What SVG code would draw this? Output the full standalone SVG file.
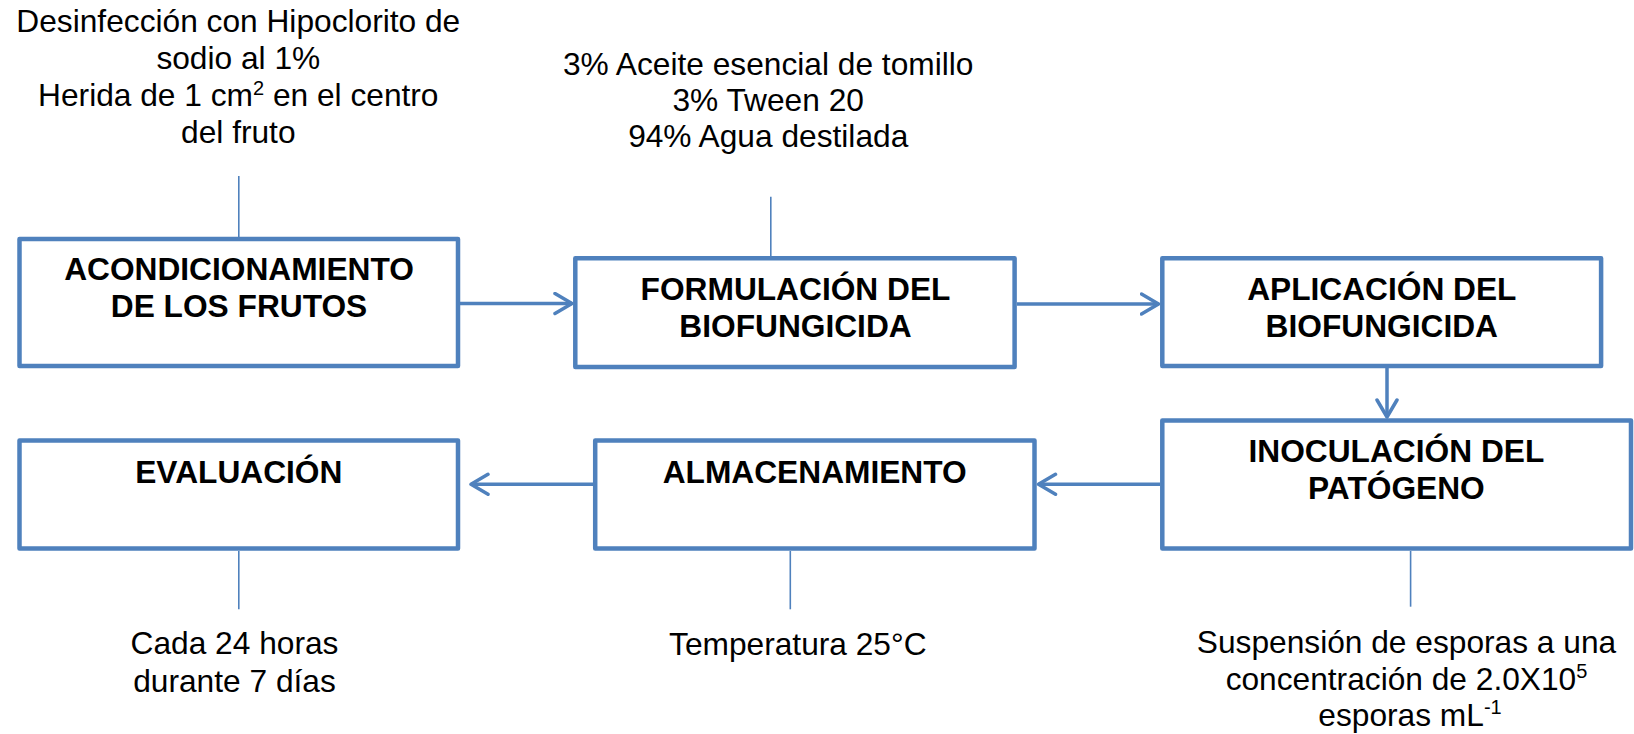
<svg xmlns="http://www.w3.org/2000/svg" width="1634" height="734" viewBox="0 0 1634 734">
<defs>
<style>
.box{fill:#fff;stroke:#4F81BD;stroke-width:4.5;stroke-linejoin:round}
.arr{fill:none;stroke:#4F81BD;stroke-width:3.5}
.thin{fill:none;stroke:#4F81BD;stroke-width:1.6}
.t{font-family:"Liberation Sans",Arial,sans-serif;font-size:31.7px;fill:#000;text-anchor:middle}
.b{font-weight:bold}
</style>
<marker id="ah" viewBox="0 0 22 24" refX="19" refY="12" markerWidth="22" markerHeight="24" markerUnits="userSpaceOnUse" orient="auto">
<path d="M2,2 L19,12 L2,22" fill="none" stroke="#4F81BD" stroke-width="3.5" stroke-linecap="round" stroke-linejoin="round"/>
</marker>
</defs>
<rect width="1634" height="734" fill="#fff"/>
<g id="connectors">
<line class="arr" x1="460" y1="303.5" x2="572" y2="303.5" marker-end="url(#ah)"/>
<line class="arr" x1="1017" y1="304" x2="1158.5" y2="304" marker-end="url(#ah)"/>
<line class="arr" x1="1387" y1="368" x2="1387" y2="417" marker-end="url(#ah)"/>
<line class="arr" x1="1160" y1="484.3" x2="1038.5" y2="484.3" marker-end="url(#ah)"/>
<line class="arr" x1="593" y1="484.3" x2="471" y2="484.3" marker-end="url(#ah)"/>
<line class="thin" x1="238.8" y1="176" x2="238.8" y2="237"/>
<line class="thin" x1="770.8" y1="196.7" x2="770.8" y2="256"/>
<line class="thin" x1="1410.6" y1="551" x2="1410.6" y2="606.7"/>
<line class="thin" x1="238.8" y1="551" x2="238.8" y2="609.3"/>
<line class="thin" x1="790.3" y1="551" x2="790.3" y2="609.3"/>
</g>
<g id="node-acondicionamiento">
<rect class="box" x="19.5" y="239" width="438.5" height="127"/>
<text class="t b" x="239" y="280">ACONDICIONAMIENTO</text>
<text class="t b" x="239" y="316.7">DE LOS FRUTOS</text>
</g>
<g id="node-formulacion">
<rect class="box" x="575.3" y="258.3" width="439.3" height="108.7"/>
<text class="t b" x="795.5" y="300">FORMULACIÓN DEL</text>
<text class="t b" x="795.5" y="336.7">BIOFUNGICIDA</text>
</g>
<g id="node-aplicacion">
<rect class="box" x="1162.3" y="258.3" width="438.8" height="107.8"/>
<text class="t b" x="1381.8" y="300">APLICACIÓN DEL</text>
<text class="t b" x="1381.8" y="336.7">BIOFUNGICIDA</text>
</g>
<g id="node-inoculacion">
<rect class="box" x="1162.3" y="420.5" width="468.7" height="128"/>
<text class="t b" x="1396.4" y="461.7">INOCULACIÓN DEL</text>
<text class="t b" x="1396.4" y="499">PATÓGENO</text>
</g>
<g id="node-almacenamiento">
<rect class="box" x="595.2" y="440.5" width="439.3" height="108"/>
<text class="t b" x="814.7" y="482.7">ALMACENAMIENTO</text>
</g>
<g id="node-evaluacion">
<rect class="box" x="19.5" y="440.5" width="438.5" height="108"/>
<text class="t b" x="238.8" y="482.7">EVALUACIÓN</text>
</g>
<g id="note-acondicionamiento">
<text class="t" x="238.3" y="32.3">Desinfección con Hipoclorito de</text>
<text class="t" x="238.3" y="69.3">sodio al 1%</text>
<text class="t" x="238.3" y="106">Herida de 1 cm<tspan dy="-11" font-size="20">2</tspan><tspan dy="11"> en el centro</tspan></text>
<text class="t" x="238.3" y="142.7">del fruto</text>
</g>
<g id="note-formulacion">
<text class="t" x="768.2" y="75">3% Aceite esencial de tomillo</text>
<text class="t" x="768.2" y="110.7">3% Tween 20</text>
<text class="t" x="768.2" y="146.7">94% Agua destilada</text>
</g>
<g id="note-inoculacion">
<text class="t" x="1406.5" y="653.3">Suspensión de esporas a una</text>
<text class="t" x="1406.5" y="690">concentración de 2.0X10<tspan dy="-12" font-size="20">5</tspan></text>
<text class="t" x="1410" y="725.5">esporas mL<tspan dy="-12" font-size="20">-1</tspan></text>
</g>
<g id="note-almacenamiento">
<text class="t" x="797.8" y="655">Temperatura 25°C</text>
</g>
<g id="note-evaluacion">
<text class="t" x="234.5" y="654">Cada 24 horas</text>
<text class="t" x="234.5" y="691.7">durante 7 días</text>
</g>
</svg>
